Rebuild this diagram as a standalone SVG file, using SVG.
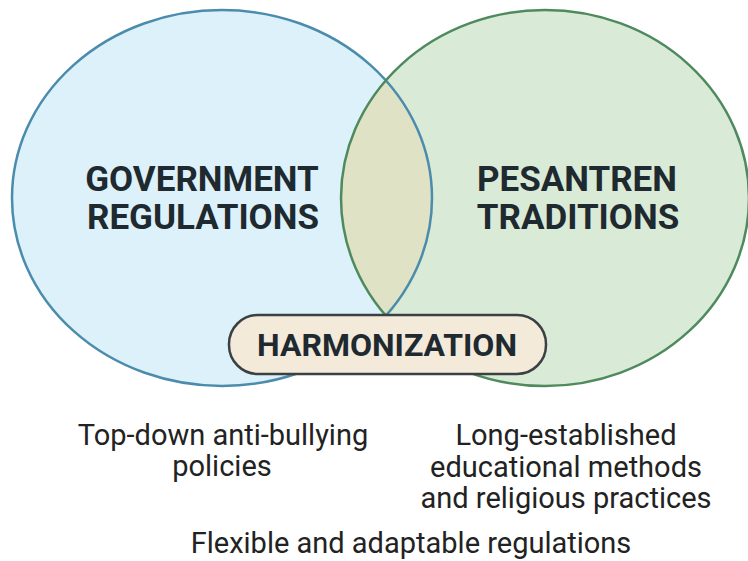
<svg xmlns="http://www.w3.org/2000/svg" width="748" height="561" viewBox="0 0 748 561">
<style>
.title{font-family:Roboto,"Liberation Sans",sans-serif;font-weight:700;font-size:35px;fill:#1f2930;text-anchor:middle}
.pill{font-size:32px}
.note{font-family:Roboto,"Liberation Sans",sans-serif;font-size:29px;fill:#222;text-anchor:middle}
</style>
<defs>
<clipPath id="clipL"><ellipse cx="222" cy="198" rx="210" ry="188"/></clipPath>
</defs>
<rect width="748" height="561" fill="#ffffff"/>
<g id="government">
<ellipse cx="222" cy="198" rx="210" ry="188" fill="#dcf1f9"/>
</g>
<g id="pesantren">
<ellipse cx="545" cy="198" rx="204" ry="188" fill="#d9ebd6"/>
</g>
<g id="overlap">
<ellipse cx="545" cy="198" rx="204" ry="188" fill="#dfe2c4" clip-path="url(#clipL)"/>
<ellipse cx="222" cy="198" rx="210" ry="188" fill="none" stroke="#4b8cad" stroke-width="2.5"/>
<ellipse cx="545" cy="198" rx="204" ry="188" fill="none" stroke="#4f8a5e" stroke-width="2.5"/>
</g>
<g id="labels">
<text class="title" x="202" y="191">GOVERNMENT</text>
<text class="title" x="203" y="229">REGULATIONS</text>
<text class="title" x="577" y="191">PESANTREN</text>
<text class="title" x="578" y="229">TRADITIONS</text>
</g>
<g id="harmonization">
<rect x="229" y="315" width="317" height="59" rx="29" fill="#f3ead9" stroke="#3b4045" stroke-width="2.5"/>
<text class="title pill" x="387" y="356">HARMONIZATION</text>
</g>
<g id="notes">
<text class="note" x="223" y="445">Top-down anti-bullying</text>
<text class="note" x="222" y="476">policies</text>
<text class="note" x="566" y="445">Long-established</text>
<text class="note" x="566" y="477">educational methods</text>
<text class="note" x="566" y="508">and religious practices</text>
<text class="note" x="411" y="553">Flexible and adaptable regulations</text>
</g>
<g id="connectors"/>
</svg>
